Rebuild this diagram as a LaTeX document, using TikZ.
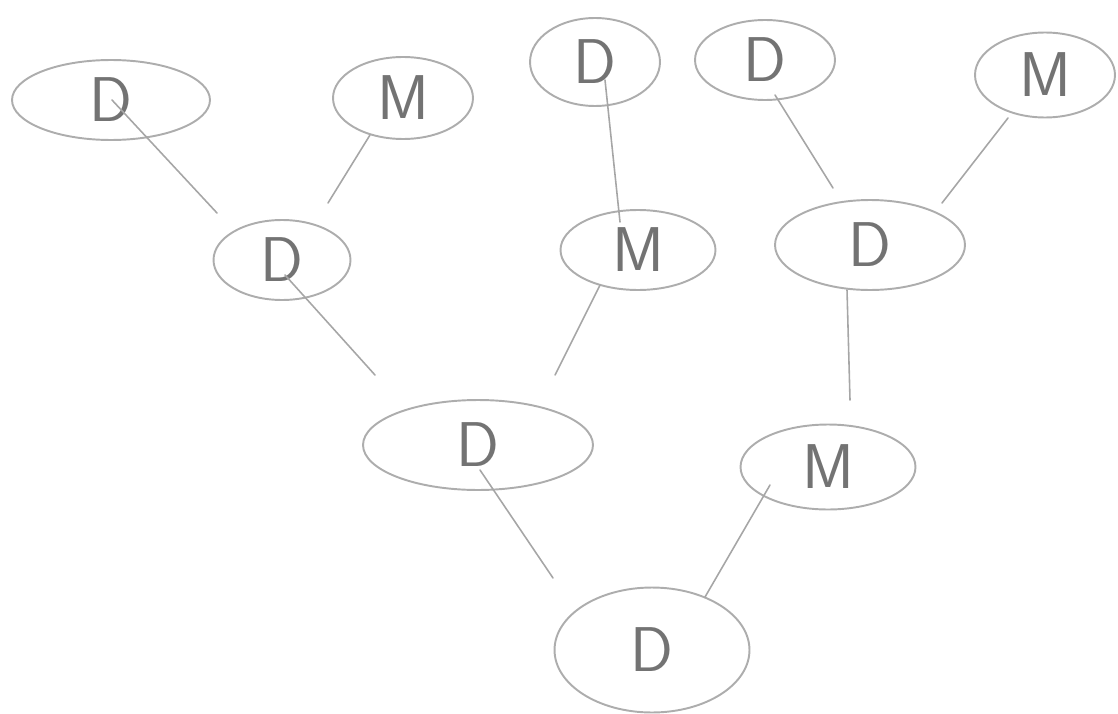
\documentclass[tikz,border=0pt]{standalone}
\usetikzlibrary{shapes.geometric}
\begin{document}
\begin{tikzpicture}[x=0.02cm,y=-0.02cm,
  nd/.style={ellipse,draw=black!32,line width=1.1pt,inner sep=0pt,
    text=black!55,font=\sffamily\fontsize{36}{38}\selectfont},
  edge/.style={draw=black!35,line width=0.9pt,line cap=round}]
\useasboundingbox (0,0) rectangle (1118,713);
\node[nd,minimum width=3.96cm,minimum height=1.6cm] (d1) at (111,100) {D};
\node[nd,minimum width=2.8cm,minimum height=1.64cm] (m2) at (403,98) {M};
\node[nd,minimum width=2.6cm,minimum height=1.76cm] (d3) at (595,62) {D};
\node[nd,minimum width=2.8cm,minimum height=1.6cm] (d4) at (765,60) {D};
\node[nd,minimum width=2.8cm,minimum height=1.7cm] (m5) at (1045,75) {M};
\node[nd,minimum width=2.74cm,minimum height=1.6cm] (d6) at (282,260) {D};
\node[nd,minimum width=3.1cm,minimum height=1.6cm] (m7) at (638,250) {M};
\node[nd,minimum width=3.8cm,minimum height=1.8cm] (d8) at (870,245) {D};
\node[nd,minimum width=4.6cm,minimum height=1.8cm] (d9) at (478,445) {D};
\node[nd,minimum width=3.5cm,minimum height=1.7cm] (m10) at (828,467) {M};
\node[nd,minimum width=3.9cm,minimum height=2.5cm] (d11) at (652,650) {D};
\draw[edge] ([shift={(1,0)}]d1.center) -- ([shift={(-65,-47)}]d6.center);
\draw[edge] ([shift={(-33,37)}]m2.center) -- ([shift={(46,-57)}]d6.center);
\draw[edge] ([shift={(10,18)}]d3.center) -- ([shift={(-18,-28)}]m7.center);
\draw[edge] ([shift={(10,35)}]d4.center) -- ([shift={(-37,-57)}]d8.center);
\draw[edge] ([shift={(-37,43)}]m5.center) -- ([shift={(72,-42)}]d8.center);
\draw[edge] ([shift={(3,15)}]d6.center) -- ([shift={(-103,-70)}]d9.center);
\draw[edge] ([shift={(-38,35)}]m7.center) -- ([shift={(77,-70)}]d9.center);
\draw[edge] ([shift={(-23,45)}]d8.center) -- ([shift={(22,-67)}]m10.center);
\draw[edge] ([shift={(2,25)}]d9.center) -- ([shift={(-99,-72)}]d11.center);
\draw[edge] ([shift={(-58,18)}]m10.center) -- ([shift={(53,-53)}]d11.center);
\end{tikzpicture}
\end{document}
